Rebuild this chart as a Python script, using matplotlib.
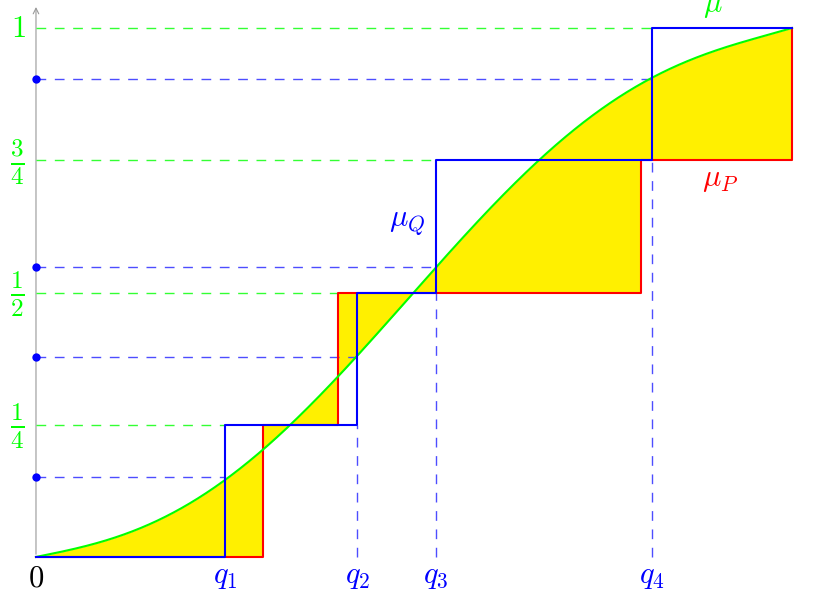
import numpy as np
import matplotlib
matplotlib.use("Agg")
import matplotlib.pyplot as plt

plt.rcParams['mathtext.fontset'] = 'cm'

# smooth distribution function mu
curve_x = [0.0, 0.36, 0.81, 1.24, 1.68, 2.13, 2.5, 2.99, 3.36, 3.99, 4.25,
           4.99, 5.29, 6.1, 6.63, 7.10, 7.55, 8.15, 8.65, 9.31, 10.0]
curve_y = [0.0, 0.011, 0.025, 0.045, 0.072, 0.110, 0.151, 0.202, 0.251, 0.338, 0.378,
           0.499, 0.548, 0.668, 0.750, 0.807, 0.858, 0.905, 0.936, 0.972, 1.0]

levels = [0.25, 0.5, 0.75, 1.0]
level_labels = [r'$\frac{1}{4}$', r'$\frac{1}{2}$', r'$\frac{3}{4}$', r'$1$']

# step function mu_P (red) jumps
p_jumps = [3.0, 4.0, 8.0, 10.0]
# step function mu_Q (blue) jumps = quantiles q_i
q_jumps = [2.5, 4.25, 5.29, 8.15]
q_labels = [r'$q_1$', r'$q_2$', r'$q_3$', r'$q_4$']
mu_at_q = [0.151, 0.378, 0.549, 0.904]

x_end = 10.0

green = '#00ff00'
blue = '#0000ff'
red = '#ff0000'
yellow = '#fff000'
dash = (0, (7.0, 6.2))

fig = plt.figure(figsize=(8.26, 5.94), dpi=100)
ax = fig.add_axes([0, 0, 1, 1])
ax.set_xlim(-0.476, 10.45)
ax.set_ylim(-0.070, 1.053)
ax.axis('off')

# smooth the hand-read points a bit (ends pinned with big weights)
w = np.ones(len(curve_x))
w[0] = w[-1] = 30
coef = np.polyfit(curve_x, curve_y, 5, w=w)
xd = np.linspace(0, x_end, 4001)
mu_d = np.polyval(coef, xd)

# yellow area between mu and mu_P
p_vals = np.array([0.0] + levels)
red_d = p_vals[np.searchsorted(p_jumps, xd, side='right')]
red_d[-1] = levels[2]
ax.fill_between(xd, mu_d, red_d, color=yellow, lw=0, zorder=1)

# axes
ax.annotate('', xy=(10.47, 0), xytext=(0, 0),
            arrowprops=dict(arrowstyle='->', color='#999999', lw=0.8), zorder=2)
ax.annotate('', xy=(0, 1.045), xytext=(0, 0),
            arrowprops=dict(arrowstyle='->', color='#999999', lw=0.8), zorder=2)

# green dashed guides at the levels
green_ends = [q_jumps[0], p_jumps[1], q_jumps[2], q_jumps[3]]
for lv, xe in zip(levels, green_ends):
    ax.plot([0, xe], [lv, lv], color='#33ff33', lw=1.0, ls=dash, zorder=2)

# blue dashed guides at mu(q_i)
for q, m in zip(q_jumps, mu_at_q):
    ax.plot([0, q], [m, m], color='#4d4dff', lw=1.0, ls=dash, zorder=2)
for q, lv in zip(q_jumps[1:], levels[:3]):
    ax.plot([q, q], [0, lv], color='#4d4dff', lw=1.0, ls=dash, zorder=2)
ax.plot([0] * len(mu_at_q), mu_at_q, 'o', color=blue, ms=6, mec='none', zorder=5)

# mu_P red steps
rx, ry = [0.0], [0.0]
prev = 0.0
for xj, lv in zip(p_jumps, levels):
    rx += [xj, xj]
    ry += [prev, lv]
    prev = lv
ax.plot(rx, ry, color=red, lw=1.5, zorder=3)

# mu curve
ax.plot(xd, mu_d, color=green, lw=1.5, zorder=4)

# mu_Q blue steps
bx, by = [0.0], [0.0]
prev = 0.0
for xj, lv in zip(q_jumps, levels):
    bx += [xj, xj]
    by += [prev, lv]
    prev = lv
bx.append(x_end)
by.append(1.0)
ax.plot(bx, by, color=blue, lw=1.5, zorder=4)

# labels
ax.text(0, -0.040, r'$0$', color='black', fontsize=22, ha='center', va='center')
for q, lab in zip(q_jumps, q_labels):
    ax.text(q, -0.036, lab, color=blue, fontsize=22, ha='center', va='center')
for lv, lab in zip(levels, level_labels):
    if lab == r'$1$':
        ax.text(-0.238, lv, lab, color=green, fontsize=22, ha='center', va='center')
    else:
        ax.text(-0.251, lv - 0.003, lab, color=green, fontsize=26, ha='center', va='center')

ax.text(8.955, 1.043, r'$\mu$', color=green, fontsize=22, ha='center', va='center')
ax.text(9.05, 0.713, r'$\mu_P$', color=red, fontsize=22, ha='center', va='center')
ax.text(4.91, 0.633, r'$\mu_Q$', color=blue, fontsize=22, ha='center', va='center')

fig.savefig('out.png', dpi=100)
